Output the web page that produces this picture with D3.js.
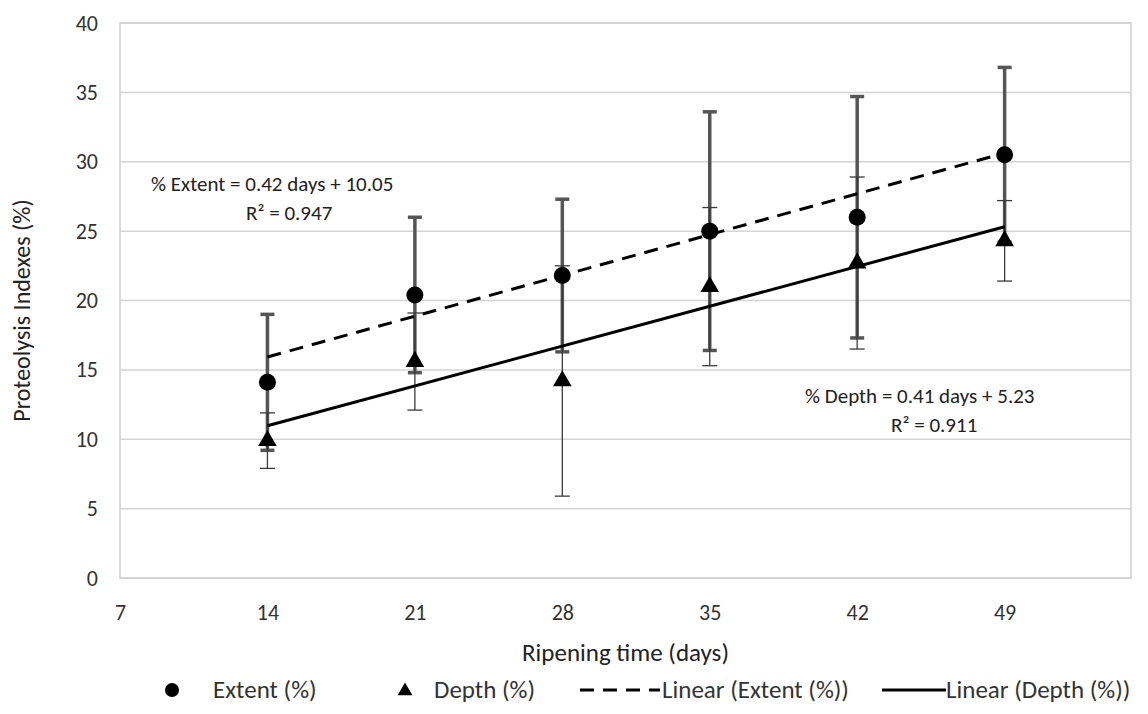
<!DOCTYPE html>
<html>
<head>
<meta charset="utf-8">
<script src="https://cdn.jsdelivr.net/npm/d3@7"></script>
<style>
  body { margin: 0; background: #fff; }
  text { font-family: Carlito, Calibri, Lato, "Open Sans", sans-serif; }
</style>
</head>
<body>
<div class="container"></div>
<script>
const WIDTH = 1148;
const HEIGHT = 714;
const LEFT = 120, RIGHT = 1131, TOP = 23, BOTTOM = 578;

// data
var days = [14, 21, 28, 35, 42, 49];
var extent = [14.1, 20.4, 21.8, 25.0, 26.0, 30.5];
var extentErr = [4.9, 5.6, 5.5, 8.6, 8.7, 6.3];
var depth = [9.9, 15.6, 14.2, 21.0, 22.7, 24.3];
var depthErr = [2.0, 3.5, 8.3, 5.7, 6.2, 2.9];
var extentTrend = [0.42, 10.05];
var depthTrend = [0.41, 5.23];
var xTicks = [7, 14, 21, 28, 35, 42, 49];
var yTicks = [0, 5, 10, 15, 20, 25, 30, 35, 40];
var legendLabels = ["Extent (%)", "Depth (%)", "Linear (Extent (%))", "Linear (Depth (%))"];

var svg = d3.select('.container').append('svg')
    .attr('width', WIDTH)
    .attr('height', HEIGHT);

var x = d3.scaleLinear().domain([7, 55]).range([LEFT, RIGHT]);
var y = d3.scaleLinear().domain([0, 40]).range([BOTTOM, TOP]);

// gridlines + frame
svg.append('g').selectAll('line').data(yTicks).enter()
    .append('line')
    .attr('x1', LEFT).attr('x2', RIGHT)
    .attr('y1', d => y(d)).attr('y2', d => y(d))
    .attr('stroke', '#d4d4d4').attr('stroke-width', 1.5);
svg.append('rect')
    .attr('x', LEFT).attr('y', TOP)
    .attr('width', RIGHT - LEFT).attr('height', BOTTOM - TOP)
    .attr('fill', 'none').attr('stroke', '#cfcfcf').attr('stroke-width', 1.5);

// axes (labels only)
var yAxis = svg.append('g')
    .attr('transform', `translate(${LEFT - 22},0)`)
    .call(d3.axisLeft(y).tickValues(yTicks).tickSize(0).tickPadding(0));
var xAxis = svg.append('g')
    .attr('transform', `translate(0,${BOTTOM + 25})`)
    .call(d3.axisBottom(x).tickValues(xTicks).tickSize(0).tickPadding(0));
[xAxis, yAxis].forEach(function(g) {
    g.select('.domain').remove();
    g.selectAll('text').attr('font-size', 22).attr('fill', '#333')
        .style('font-family', 'Carlito, Calibri, Lato, sans-serif');
});
xAxis.selectAll('text').attr('dy', '0.75em');

svg.append('text')
    .attr('x', (LEFT + RIGHT) / 2).attr('y', 661)
    .attr('text-anchor', 'middle').attr('font-size', 25).attr('fill', '#222')
    .text('Ripening time (days)');
svg.append('text')
    .attr('transform', `translate(30,${(TOP + BOTTOM) / 2 + 10}) rotate(-90)`)
    .attr('text-anchor', 'middle').attr('font-size', 24).attr('fill', '#222')
    .text('Proteolysis Indexes (%)');

// error bars
var errorBars = function(vals, errs, color, width, capW, capStroke) {
    var g = svg.append('g').attr('stroke', color);
    days.forEach(function(d, i) {
        var lo = y(vals[i] - errs[i]), hi = y(vals[i] + errs[i]);
        g.append('line').attr('x1', x(d)).attr('x2', x(d))
            .attr('y1', lo).attr('y2', hi).attr('stroke-width', width);
        [lo, hi].forEach(function(c) {
            g.append('line').attr('x1', x(d) - capW / 2).attr('x2', x(d) + capW / 2)
                .attr('y1', c).attr('y2', c).attr('stroke-width', capStroke);
        });
    });
};
errorBars(extent, extentErr, '#555555', 3.5, 14, 3.5);
errorBars(depth, depthErr, '#3a3a3a', 1.3, 15, 1.3);

// trendlines
var trendLine = function(coef, dash) {
    var line = d3.line().x(d => x(d)).y(d => y(coef[0] * d + coef[1]));
    svg.append('path')
        .attr('d', line([days[0], days[days.length - 1]]))
        .attr('fill', 'none').attr('stroke', '#000').attr('stroke-width', 3)
        .attr('stroke-dasharray', dash);
};
trendLine(extentTrend, '14,9');
trendLine(depthTrend, null);

// markers
svg.append('g').selectAll('circle').data(days).enter()
    .append('circle')
    .attr('cx', d => x(d)).attr('cy', (d, i) => y(extent[i]))
    .attr('r', 8.5).attr('fill', '#000');
var tri = d3.symbol().type(d3.symbolTriangle).size(150);
svg.append('g').selectAll('path').data(days).enter()
    .append('path')
    .attr('d', tri)
    .attr('transform', (d, i) => `translate(${x(d)},${y(depth[i])})`)
    .attr('fill', '#000');

// trendline equations
var note = function(lines, xs, y0) {
    lines.forEach(function(t, i) {
        svg.append('text').attr('x', xs[i]).attr('y', y0 + i * 29)
            .attr('font-size', 21).attr('fill', '#222').text(t);
    });
};
note(['% Extent = 0.42 days + 10.05', 'R\u00b2 = 0.947'], [151, 246], 191);
note(['% Depth = 0.41 days + 5.23', 'R\u00b2 = 0.911'], [805, 891], 403);

// legend
var ly = 690;
var legend = svg.append('g');
legend.append('circle').attr('cx', 172).attr('cy', ly).attr('r', 7).attr('fill', '#000');
legend.append('path').attr('d', d3.symbol().type(d3.symbolTriangle).size(95))
    .attr('transform', `translate(405,${ly + 1})`).attr('fill', '#000');
legend.append('line').attr('x1', 580).attr('x2', 660).attr('y1', ly).attr('y2', ly)
    .attr('stroke', '#000').attr('stroke-width', 3).attr('stroke-dasharray', '14,9');
legend.append('line').attr('x1', 882).attr('x2', 946).attr('y1', ly).attr('y2', ly)
    .attr('stroke', '#000').attr('stroke-width', 3);
var lx = [213, 434, 662, 946];
legendLabels.forEach(function(t, i) {
    legend.append('text').attr('x', lx[i]).attr('y', ly + 8)
        .attr('font-size', 25).attr('fill', '#333').text(t);
});
</script>
</body>
</html>
